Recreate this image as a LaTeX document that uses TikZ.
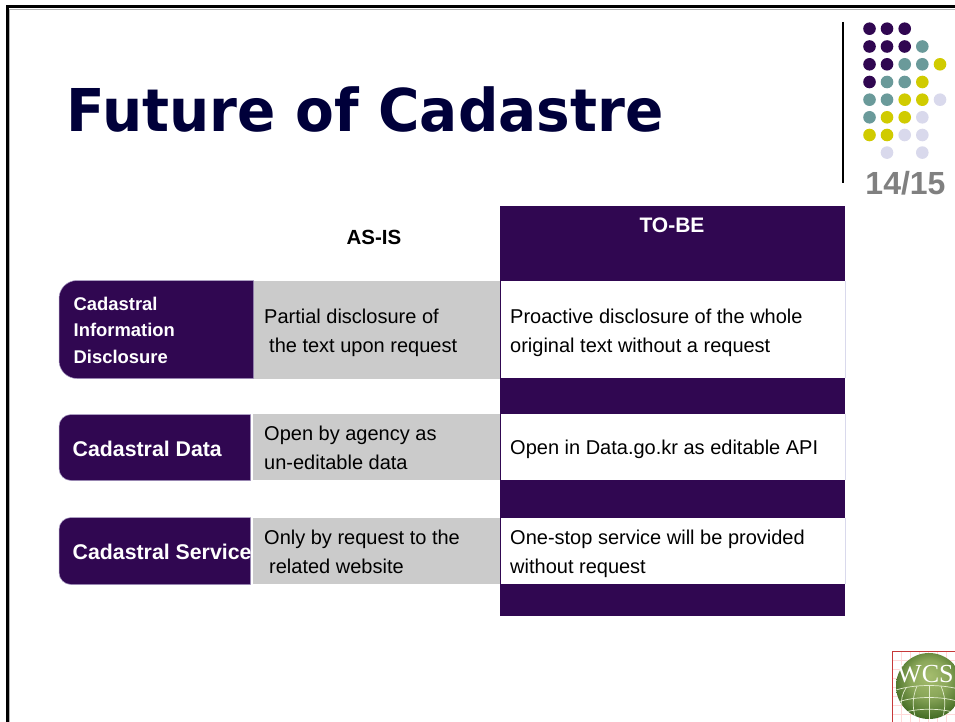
\documentclass[tikz,border=0pt]{standalone}
\usepackage{fontspec}
\setmainfont{Liberation Sans}
\newfontfamily\titlefont{DejaVu Sans}
\newfontfamily\logofont{Liberation Serif}
\definecolor{deep}{HTML}{300751}
\definecolor{edge}{HTML}{A99BC4}
\definecolor{cellgrey}{HTML}{CBCBCB}
\definecolor{teal}{HTML}{6A9A9A}
\definecolor{olive}{HTML}{D0CB00}
\definecolor{lilac}{HTML}{D9D9EC}
\definecolor{titleblue}{HTML}{00003A}
\definecolor{pagenum}{HTML}{808080}
\definecolor{ballmid}{HTML}{A5BD6E}
\definecolor{balledge}{HTML}{3C651E}
\definecolor{gridline}{HTML}{E4EDD0}
\pgfdeclareradialshading{globe}{\pgfpoint{0pt}{8pt}}{%
  color(0pt)=(ballmid); color(14pt)=(ballmid!75!balledge); color(30pt)=(balledge); color(50pt)=(balledge)}
\tikzset{
  x=1pt,y=-1pt,
  purplefill/.style={fill=deep,draw=none},
  rowlabel/.style={text=white,anchor=west,inner sep=0pt,align=left},
  bodytext/.style={text=black,font=\fontsize{20}{29}\selectfont,anchor=west,inner sep=0pt,align=left},
  headtext/.style={text=black,font=\bfseries\fontsize{20.5}{24}\selectfont,inner sep=0pt},
  dotp/.style={fill=deep,draw=none},
  dott/.style={fill=teal,draw=none},
  doto/.style={fill=olive,draw=none},
  dotl/.style={fill=lilac,draw=none},
  globeline/.style={draw=gridline,line width=0.7pt},
}
\begin{document}
\begin{tikzpicture}
\useasboundingbox (0,0) rectangle (955,722);
\fill[white] (0,0) rectangle (955,722);
% page frame
\draw[gray!60,line width=1pt] (9.5,722) -- (9.5,9.5) -- (955,9.5);
\draw[black,line width=3pt] (7,722) -- (7,7) -- (955,7);
% title
\node[anchor=base west,inner sep=0pt,text=titleblue,xscale=0.958,font=\titlefont\bfseries\fontsize{59}{59}\selectfont] (title) at (66,132) {Future of Cadastre};
% side ornament
\draw[black,line width=2pt] (843,22) -- (843,183);
\foreach \cx/\cy/\st in {
 869.5/28.7/dotp,887/28.7/dotp,904.7/28.7/dotp,
 869.5/46.5/dotp,887/46.5/dotp,904.7/46.5/dotp,922.3/46.5/dott,
 869.5/64.3/dotp,887/64.3/dotp,904.7/64.3/dott,922.3/64.3/dott,940/64.3/doto,
 869.5/82/dotp,887/82/dott,904.7/82/dott,922.3/82/doto,
 869.5/99.7/dott,887/99.7/dott,904.7/99.7/doto,922.3/99.7/doto,940/99.7/dotl,
 869.5/117.3/dott,887/117.3/doto,904.7/117.3/doto,922.3/117.3/dotl,
 869.5/135/doto,887/135/doto,904.7/135/dotl,922.3/135/dotl,
 887/152.6/dotl,922.3/152.6/dotl}{
  \fill[\st] (\cx,\cy) circle[radius=6.3];
}
\node[anchor=base,inner sep=0pt,text=pagenum,font=\bfseries\fontsize{32}{32}\selectfont] (pagenum) at (905.5,195) {14/15};
% table: TO-BE column
\fill[purplefill] (500,206) rectangle (845,616);
\fill[white] (500.5,281) rectangle (845.5,378);
\fill[white] (500.5,413.5) rectangle (845.5,480);
\fill[white] (500.5,517.5) rectangle (845.5,584);
\draw[lilac,line width=0.5pt] (845,281) -- (845,378) (845,413.5) -- (845,480) (845,517.5) -- (845,584);
% AS-IS cells
\fill[cellgrey] (253,280.5) rectangle (500,378.5);
\fill[cellgrey] (253,414) rectangle (500,480);
\fill[cellgrey] (253,518) rectangle (500,584);
% row labels
\path[purplefill,draw=edge,line width=0.5pt] (253.5,280.5) -- (77,280.5) arc[start angle=270,end angle=180,radius=18] -- (59,360.5) arc[start angle=180,end angle=90,radius=18] -- (253.5,378.5) -- cycle;
\path[purplefill,draw=edge,line width=0.5pt] (250.5,414.5) -- (71,414.5) arc[start angle=270,end angle=180,radius=12] -- (59,468.5) arc[start angle=180,end angle=90,radius=12] -- (250.5,480.5) -- cycle;
\path[purplefill,draw=edge,line width=0.5pt] (250.5,517.5) -- (71,517.5) arc[start angle=270,end angle=180,radius=12] -- (59,572.5) arc[start angle=180,end angle=90,radius=12] -- (250.5,584.5) -- cycle;
% header text
\node[headtext] (asis) at (374,237.5) {AS-IS};
\node[headtext,text=white,font=\bfseries\fontsize{21}{24}\selectfont] (tobe) at (672,225.5) {TO-BE};
% row label text
\node[rowlabel,font=\bfseries\fontsize{18.4}{26.5}\selectfont] (lab1) at (73.5,330) {Cadastral\\Information\\Disclosure};
\node[rowlabel,font=\bfseries\fontsize{21.3}{26}\selectfont] (lab2) at (72.5,449) {Cadastral Data};
\node[rowlabel,font=\bfseries\fontsize{21.3}{26}\selectfont] (lab3) at (72.5,552) {Cadastral Service};
% as-is text
\node[bodytext] (a1) at (264,332.5) {Partial disclosure of\\\hspace{5pt}the text upon request};
\node[bodytext] (a2) at (264,448) {Open by agency as\\un-editable data};
\node[bodytext] (a3) at (264,552) {Only by request to the\\\hspace{5pt}related website};
% to-be text
\node[bodytext] (b1) at (510,332.5) {Proactive disclosure of the whole\\original text without a request};
\node[bodytext] (b2) at (510,449) {Open in Data.go.kr as editable API};
\node[bodytext] (b3) at (510,553.5) {One-stop service will be provided\\without request};
% logo
\begin{scope}
\clip (892,651) rectangle (955,722);
\fill[white] (892,651) rectangle (955,722);
\foreach \k in {0,1,...,7}{
  \draw[red!15,line width=0.5pt] (892+9*\k,651) -- (892+9*\k,722);
  \draw[red!15,line width=0.5pt] (892,651+9*\k) -- (955,651+9*\k);
}
\draw[red!55!gray,line width=1pt] (955,651.5) -- (892.5,651.5) -- (892.5,722);
\shade[shading=globe] (929,686) circle[radius=33];
\begin{scope}
\clip (929,686) circle[radius=33];
\draw[globeline] (896,690) .. controls (915,684) and (943,684) .. (962,690);
\draw[globeline] (898,702) .. controls (915,696) and (943,696) .. (960,702);
\draw[globeline] (903,713) .. controls (915,708) and (943,708) .. (955,713);
\draw[globeline] (929,686) -- (929,722);
\draw[globeline] (917,686) .. controls (911,700) and (913,712) .. (917,722);
\draw[globeline] (941,686) .. controls (947,700) and (945,712) .. (941,722);
\draw[globeline] (906,688) .. controls (898,700) and (902,712) .. (908,718);
\end{scope}
\end{scope}
\node[anchor=base west,inner sep=0pt,text=white,font=\logofont\fontsize{26}{26}\selectfont] (logotext) at (897,682) {WCS};
\end{tikzpicture}
\end{document}
